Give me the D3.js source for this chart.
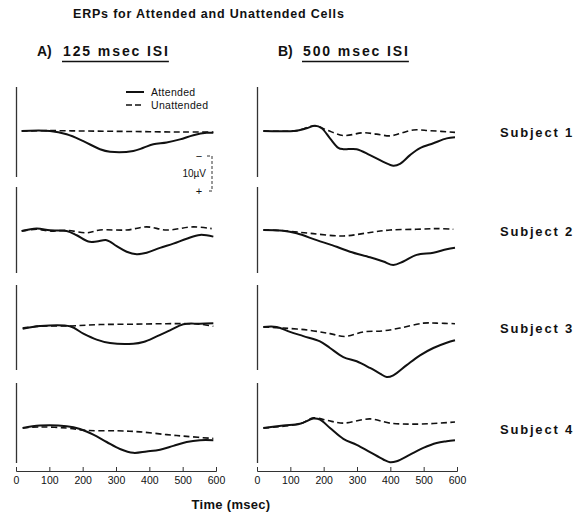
<!DOCTYPE html>
<html><head><meta charset="utf-8">
<script src="https://cdn.jsdelivr.net/npm/d3@7"></script>
<style>body{margin:0;background:#fff}svg{display:block}text{font-family:"Liberation Sans",Arial,sans-serif;fill:#111}</style>
</head><body><svg id="c" width="587" height="516"></svg>
<script>
const titleText = "ERPs for Attended and Unattended Cells";
const conditionLetters = ["A)", "B)"];
const conditions = ["125 msec ISI", "500 msec ISI"];
const subjects = ["Subject 1", "Subject 2", "Subject 3", "Subject 4"];
const seriesNames = ["Attended", "Unattended"];
const timeTicks = [0, 100, 200, 300, 400, 500, 600];
const xLabel = "Time (msec)";
const scaleLabel = "10µV";
const scaleValue = 10;

// [time msec, amplitude µV] (positive plotted downward)
const s1_125_att = [[17,0],[102,0],[152,0.95],[202,2.9],[252,5.2],[282,5.9],[352,5.7],[382,4.8],[412,3.8],[452,3.3],[492,2.4],[532,1.2],[572,0.5],[592,0.5]];
const s1_125_un  = [[17,0],[100,-0.1],[200,0],[300,0.1],[400,0.2],[500,0.3],[592,0.3]];
const s1_500_att = [[19,0],[119,-0.1],[149,-0.8],[174,-1.5],[194,-0.8],[219,2.1],[244,4.8],[259,5.2],[299,5.2],[339,6.9],[379,8.8],[409,9.9],[429,9.4],[459,6.9],[489,4.9],[529,3.5],[569,2.1],[594,1.8]];
const s1_500_un  = [[19,0],[119,-0.1],[174,-1.5],[209,-0.3],[259,1.3],[319,0.5],[359,0.9],[399,1.4],[429,0.7],[469,-0.3],[519,-0.1],[594,0.4]];

const s2_125_att = [[17,0.3],[62,-0.4],[102,0.1],[152,0.3],[182,1.5],[217,3.3],[242,3.3],[272,2.9],[302,4.6],[332,6.2],[362,6.9],[392,6.5],[432,5.1],[472,3.9],[512,2.5],[552,1.4],[592,1.9]];
const s2_125_un  = [[17,0.3],[62,-0.2],[102,0.3],[152,0.1],[212,0.8],[252,0],[332,0],[392,-0.9],[452,0],[532,-0.9],[587,-0.4]];
const s2_500_att = [[19,0],[79,0.2],[119,0.95],[179,2.9],[239,4.8],[279,6.2],[339,7.8],[379,9.0],[409,10.0],[439,9.0],[479,7.1],[529,6.5],[569,5.5],[594,5.1]];
const s2_500_un  = [[19,0],[79,0.2],[159,0.95],[259,1.7],[339,0.7],[399,0],[479,-0.2],[539,-0.4],[589,-0.2]];

const s3_125_att = [[20,0.5],[72,-0.3],[162,-0.2],[202,1.9],[242,3.6],[282,4.6],[352,4.8],[382,4.3],[422,2.7],[462,0.95],[502,-0.8],[552,-0.95],[592,-1.1]];
const s3_125_un  = [[20,0.3],[72,-0.2],[162,-0.3],[252,-0.7],[352,-0.8],[452,-0.95],[512,-0.95],[552,-0.8],[592,-0.2]];
const s3_500_att = [[19,0],[59,0],[99,1.4],[139,2.6],[189,4.1],[219,6.0],[259,8.6],[299,9.8],[339,11.7],[369,13.3],[389,14.3],[409,13.8],[449,10.9],[489,8.1],[529,6.0],[569,4.5],[594,3.8]];
const s3_500_un  = [[19,0],[79,0.3],[159,0.95],[219,1.9],[264,2.7],[319,1.4],[379,1.1],[429,0.3],[499,-1.1],[539,-1.1],[594,-0.95]];

const s4_125_att = [[20,0],[72,-0.7],[152,-0.5],[192,0.3],[232,1.9],[272,4.0],[312,6.0],[352,7.1],[392,6.7],[432,6.2],[472,5.1],[512,4.0],[552,3.5],[592,3.5]];
const s4_125_un  = [[20,0],[72,-0.3],[152,0],[212,0.7],[302,0.8],[372,1.1],[452,1.9],[512,2.4],[592,3.0]];
const s4_500_att = [[19,0],[79,-0.7],[129,-1.2],[169,-2.7],[189,-2.4],[219,0],[259,3.1],[299,4.8],[339,6.9],[379,9.0],[399,9.8],[419,9.5],[459,7.6],[499,5.7],[539,4.3],[569,3.8],[594,3.5]];
const s4_500_un  = [[19,0],[129,-1.2],[169,-2.9],[209,-2.2],[259,-1.4],[339,-2.6],[399,-1.4],[479,-1.1],[594,-1.7]];

const table = [
  [[s1_125_att, s1_125_un], [s1_500_att, s1_500_un]],
  [[s2_125_att, s2_125_un], [s2_500_att, s2_500_un]],
  [[s3_125_att, s3_125_un], [s3_500_att, s3_500_un]],
  [[s4_125_att, s4_125_un], [s4_500_att, s4_500_un]]
];

// ---- layout ----
const svg = d3.select("#c");
const panelLeft = [16, 257], panelW = 200;
const rowBase = [131, 230, 327, 428];
const rowExtent = [[87,177],[187,273],[285,370],[383,463]];
const pxPerUnit = 3.5;
const axisY = 471;
const ink = "#111";

svg.append("text").attr("x", 73).attr("y", 18)
  .style("font-size", "12.5px").style("font-weight", "bold").style("letter-spacing", "0.8px")
  .text(titleText);

const headX = [37, 278], headTextX = [63, 303];
conditions.forEach((c, j) => {
  svg.append("text").attr("x", headX[j]).attr("y", 56)
    .style("font-size", "14px").style("font-weight", "bold").text(conditionLetters[j]);
  const t = svg.append("text").attr("x", headTextX[j]).attr("y", 56)
    .style("font-size", "14px").style("font-weight", "bold").style("letter-spacing", "1.9px").text(c);
  const w = t.node().getComputedTextLength();
  svg.append("line").attr("x1", headTextX[j] - 1).attr("x2", headTextX[j] + w - 1)
    .attr("y1", 61.5).attr("y2", 61.5).attr("stroke", ink).attr("stroke-width", 1.6);
});

const xs = panelLeft.map(l => d3.scaleLinear().domain([0, 600]).range([l, l + panelW]));

const line = (x, y) => d3.line().x(d => x(d[0])).y(d => y(d[1])).curve(d3.curveCatmullRom.alpha(0.5));

table.forEach((row, i) => {
  const y = d3.scaleLinear().domain([0, scaleValue]).range([rowBase[i], rowBase[i] + scaleValue * pxPerUnit]);
  row.forEach((pair, j) => {
    const x = xs[j];
    svg.append("line").attr("x1", panelLeft[j] + 0.5).attr("x2", panelLeft[j] + 0.5)
      .attr("y1", rowExtent[i][0]).attr("y2", rowExtent[i][1])
      .attr("stroke", "#333").attr("stroke-width", 1.3);
    svg.append("path").datum(pair[1]).attr("d", line(x, y))
      .attr("fill", "none").attr("stroke", ink).attr("stroke-width", 1.6).attr("stroke-dasharray", "6,3.5");
    svg.append("path").datum(pair[0]).attr("d", line(x, y))
      .attr("fill", "none").attr("stroke", ink).attr("stroke-width", 2);
  });
  svg.append("text").attr("x", 500).attr("y", rowBase[i] + 6)
    .style("font-size", "13px").style("font-weight", "bold").style("letter-spacing", "1.8px")
    .text(subjects[i]);
});

// x axes
xs.forEach(x => {
  const g = svg.append("g").attr("transform", `translate(0,${axisY})`)
    .call(d3.axisBottom(x).tickValues(timeTicks).tickSizeInner(-4).tickSizeOuter(-4).tickPadding(6));
  g.selectAll("path, line").attr("stroke", "#333").attr("stroke-width", 1);
  g.selectAll("text").style("font-family", '"Liberation Sans",Arial,sans-serif').style("font-size", "10.5px").attr("fill", ink);
});

svg.append("text").attr("x", 231).attr("y", 509).attr("text-anchor", "middle")
  .style("font-size", "13px").style("font-weight", "bold").style("letter-spacing", "0.3px").text(xLabel);

// legend
const lg = [{y: 92, dash: null, w: 2}, {y: 105, dash: "6,3", w: 1.6}];
seriesNames.forEach((n, k) => {
  svg.append("line").attr("x1", 126).attr("x2", 144).attr("y1", lg[k].y).attr("y2", lg[k].y)
    .attr("stroke", ink).attr("stroke-width", lg[k].w).attr("stroke-dasharray", lg[k].dash);
  svg.append("text").attr("x", 151).attr("y", lg[k].y + 4)
    .style("font-size", "10.5px").style("letter-spacing", "0.3px").text(n);
});

// scale bar
const sTop = 156, sBot = sTop + scaleValue * pxPerUnit;
svg.append("path").attr("d", `M207,${sTop}H212V${sBot}H207`).attr("fill", "none")
  .attr("stroke", "#333").attr("stroke-width", 1).attr("stroke-dasharray", "3,2");
svg.append("text").attr("x", 199).attr("y", sTop + 4).attr("text-anchor", "middle").style("font-size", "11px").text("−");
svg.append("text").attr("x", 199).attr("y", sBot + 4).attr("text-anchor", "middle").style("font-size", "11px").text("+");
svg.append("text").attr("x", 206).attr("y", 177).attr("text-anchor", "end").style("font-size", "10px").text(scaleLabel);
</script></body></html>
